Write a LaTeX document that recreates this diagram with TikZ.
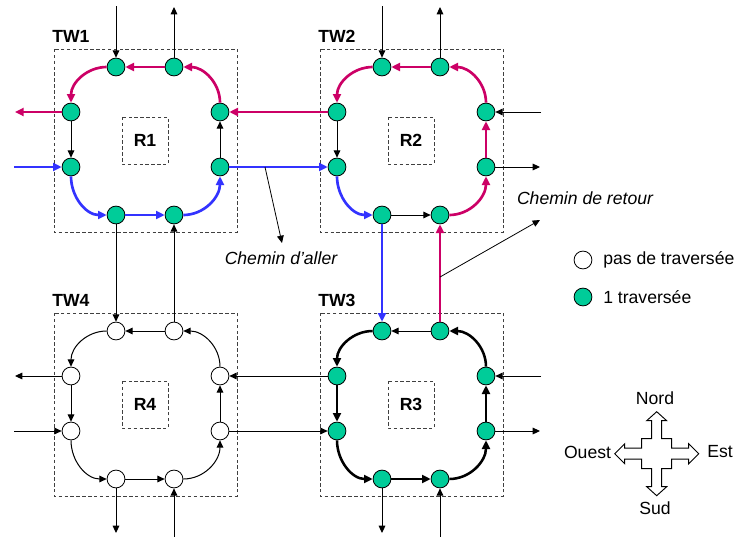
\documentclass[tikz,border=0pt]{standalone}
\usepackage{fontspec}
\setmainfont{Liberation Sans}
\usetikzlibrary{arrows.meta}
\definecolor{tgreen}{RGB}{0,204,153}
\definecolor{tmag}{RGB}{204,0,102}
\definecolor{tblue}{RGB}{51,51,255}
\tikzset{
  rnd/.style={circle, draw=black, line width=0.6pt, minimum size=13.4pt, inner sep=0pt},
  gnode/.style={rnd, fill=tgreen},
  wnode/.style={rnd, fill=white},
  boxline/.style={draw=black!75, dash pattern=on 2.6pt off 1.8pt, line width=0.6pt},
  tarr/.style={draw=black, line width=0.75pt, -{Triangle[length=5.5pt,width=5pt]}},
  mag/.style={draw=tmag, line width=2pt, -{Triangle[length=6.5pt,width=6pt]}},
  blu/.style={draw=tblue, line width=2pt, -{Triangle[length=6.5pt,width=6pt]}},
  blk/.style={draw=black, line width=1.9pt, -{Triangle[length=6.5pt,width=6pt]}},
  lbl/.style={font=\fontsize{13.2}{15}\selectfont\bfseries, inner sep=0pt},
  txt/.style={font=\fontsize{13.2}{15}\selectfont, inner sep=0pt},
  itxt/.style={font=\fontsize{13.2}{15}\selectfont\itshape, inner sep=0pt},
}
\newcommand{\mktile}[4]{%
  \begin{scope}[shift={(#2,#3)}]
    \draw[boxline] (54,-49) rectangle (237,-232);
    \draw[boxline] (122,-117) rectangle (168,-164);
    \node[lbl] (r#1) at (145,-140.5) {R#1};
    \node[lbl, anchor=west] (tw#1) at (52,-36) {TW#1};
    \node[#4] (a#1) at (116,-67) {};
    \node[#4] (b#1) at (174,-67) {};
    \node[#4] (c#1) at (71,-112) {};
    \node[#4] (d#1) at (71,-167) {};
    \node[#4] (e#1) at (220,-112) {};
    \node[#4] (f#1) at (220,-167) {};
    \node[#4] (g#1) at (116,-215) {};
    \node[#4] (h#1) at (174,-215) {};
  \end{scope}}
\begin{document}
\begin{tikzpicture}[x=0.75pt, y=0.75pt]
\useasboundingbox (0,0) rectangle (739,-536);
\mktile{1}{0}{0}{gnode}
\mktile{2}{266}{0}{gnode}
\mktile{3}{266}{-264}{gnode}
\mktile{4}{0}{-264}{wnode}

% free ends
\coordinate (t1a) at (116,-6);
\coordinate (t1b) at (174,-7);
\coordinate (l1c) at (15,-112);
\coordinate (l1d) at (14,-167);
\coordinate (t2a) at (382,-6);
\coordinate (t2b) at (440,-7);
\coordinate (r2e) at (541,-112);
\coordinate (r2f) at (540,-167);
\coordinate (r3e) at (541,-376);
\coordinate (r3f) at (540,-431);
\coordinate (s3g) at (382,-533);
\coordinate (s3h) at (440,-537);
\coordinate (l4c) at (15,-376);
\coordinate (l4d) at (14,-431);
\coordinate (s4g) at (116,-533);
\coordinate (s4h) at (174,-537);

% TW1 internal
\draw[mag] (b1) -- (a1);
\draw[mag] (a1) to[out=180,in=90] (c1);
\draw[tarr] (c1) -- (d1);
\draw[blu] (d1) to[out=-90,in=180] (g1);
\draw[blu] (g1) -- (h1);
\draw[blu] (h1) to[out=0,in=-90] (f1);
\draw[tarr] (f1) -- (e1);
\draw[mag] (e1) to[out=90,in=0] (b1);
% TW2 internal
\draw[mag] (b2) -- (a2);
\draw[mag] (a2) to[out=180,in=90] (c2);
\draw[tarr] (c2) -- (d2);
\draw[blu] (d2) to[out=-90,in=180] (g2);
\draw[tarr] (g2) -- (h2);
\draw[mag] (h2) to[out=0,in=-90] (f2);
\draw[mag] (f2) -- (e2);
\draw[mag] (e2) to[out=90,in=0] (b2);
% TW3 internal
\draw[tarr] (b3) -- (a3);
\draw[blk] (a3) to[out=180,in=90] (c3);
\draw[blk] (c3) -- (d3);
\draw[blk] (d3) to[out=-90,in=180] (g3);
\draw[blk] (g3) -- (h3);
\draw[blk] (h3) to[out=0,in=-90] (f3);
\draw[blk] (f3) -- (e3);
\draw[blk] (e3) to[out=90,in=0] (b3);
% TW4 internal
\draw[tarr] (b4) -- (a4);
\draw[tarr] (a4) to[out=180,in=90] (c4);
\draw[tarr] (c4) -- (d4);
\draw[tarr] (d4) to[out=-90,in=180] (g4);
\draw[tarr] (g4) -- (h4);
\draw[tarr] (h4) to[out=0,in=-90] (f4);
\draw[tarr] (f4) -- (e4);
\draw[tarr] (e4) to[out=90,in=0] (b4);

% external links
\draw[tarr] (t1a) -- (a1);
\draw[tarr] (b1) -- (t1b);
\draw[mag] (c1) -- (l1c);
\draw[blu] (l1d) -- (d1);
\draw[mag] (c2) -- (e1);
\draw[blu] (f1) -- (d2);
\draw[tarr] (g1) -- (a4);
\draw[tarr] (b4) -- (h1);
\draw[tarr] (t2a) -- (a2);
\draw[tarr] (b2) -- (t2b);
\draw[tarr] (r2e) -- (e2);
\draw[tarr] (f2) -- (r2f);
\draw[blu] (g2) -- (a3);
\draw[mag] (b3) -- (h2);
\draw[tarr] (r3e) -- (e3);
\draw[tarr] (f3) -- (r3f);
\draw[tarr] (g3) -- (s3g);
\draw[tarr] (s3h) -- (h3);
\draw[tarr] (c3) -- (e4);
\draw[tarr] (f4) -- (d3);
\draw[tarr] (c4) -- (l4c);
\draw[tarr] (l4d) -- (d4);
\draw[tarr] (g4) -- (s4g);
\draw[tarr] (s4h) -- (h4);

% annotations
\node[itxt] (aller) at (281,-258) {Chemin d’aller};
\node[itxt] (retour) at (585,-198) {Chemin de retour};
\coordinate (pa) at (265,-167);
\coordinate (pa2) at (282,-243);
\coordinate (pr) at (440,-277);
\coordinate (pr2) at (540,-220);
\draw[line width=0.6pt, -{Triangle[length=5.5pt,width=5pt]}] (pa) -- (pa2);
\draw[line width=0.6pt, -{Triangle[length=5.5pt,width=5pt]}] (pr) -- (pr2);

% legend
\node[wnode] (lg1) at (583,-260) {};
\node[txt, anchor=west] (lt1) at (603,-260) {pas de traversée};
\node[gnode] (lg2) at (583,-297) {};
\node[txt, anchor=west] (lt2) at (603,-297) {1 traversée};

% compass
\draw[line width=0.7pt, fill=white, shift={(656.7,-453.7)}]
 (0,-42) -- (10,-33) -- (5,-33) -- (5,-15) -- (15,-15) -- (15,-5.5) -- (32,-5.5) -- (32,-10) -- (42,0)
 -- (32,10) -- (32,5.5) -- (15,5.5) -- (15,15) -- (5,15) -- (5,33) -- (10,33) -- (0,42)
 -- (-10,33) -- (-5,33) -- (-5,15) -- (-15,15) -- (-15,5.5) -- (-32,5.5) -- (-32,10) -- (-42,0)
 -- (-32,-10) -- (-32,-5.5) -- (-15,-5.5) -- (-15,-15) -- (-5,-15) -- (-5,-33) -- (-10,-33) -- cycle;
\node[txt] (nord) at (655,-398) {Nord};
\node[txt] (sud) at (655,-508) {Sud};
\node[txt] (ouest) at (587.5,-452) {Ouest};
\node[txt] (est) at (720,-452) {Est};
\end{tikzpicture}
\end{document}
